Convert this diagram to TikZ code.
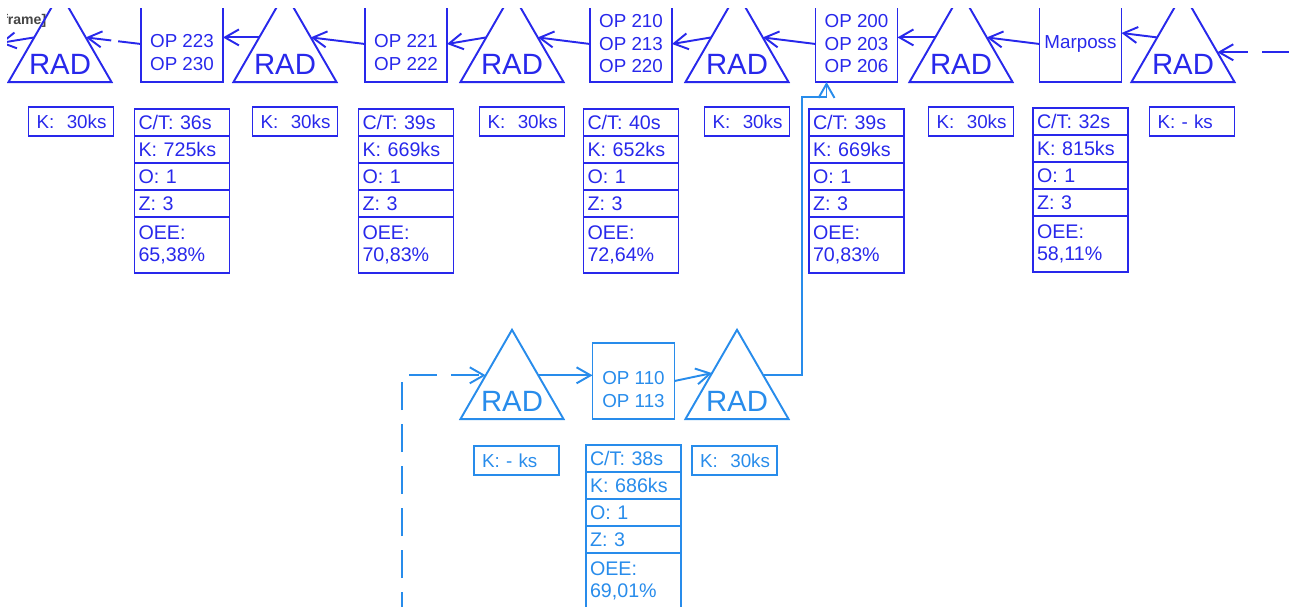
\documentclass[tikz,border=0pt]{standalone}
\usepackage{fontspec}
\setmainfont{Liberation Sans}
\usetikzlibrary{positioning,shapes.geometric,arrows.meta}

\definecolor{vsmblue}{RGB}{40,40,235}
\definecolor{vsmlight}{RGB}{40,140,235}
\definecolor{framegray}{RGB}{70,70,70}
\newcommand{\vsmfont}{\fontsize{10.7}{12.8}\selectfont}
\newcommand{\datafont}{\fontsize{11.2}{12.3}\selectfont}
\newcommand{\radfont}{\fontsize{16.7}{20}\selectfont}
\newcommand{\optop}{\rule{0pt}{0.6cm}}

\begin{document}
\begin{tikzpicture}[x=0.02cm, y=-0.02cm, line width=1.1pt,
  >={Straight Barb[length=0.28cm,width=0.32cm]},
  rad/.style={regular polygon, regular polygon sides=3, draw, minimum size=2.38cm,
    inner sep=0pt, outer sep=0pt, label={[font=\radfont, yshift=-0.25cm]center:RAD}},
  opbox/.style={draw, minimum width=1.64cm, minimum height=1.52cm, align=center,
    font=\vsmfont, inner sep=0pt, outer sep=0pt},
  kbox/.style={draw, text width=1.38cm, inner xsep=0.16cm, inner ysep=0pt,
    minimum height=0.58cm, align=left, font=\vsmfont, outer sep=0pt},
  row/.style={draw, text width=1.74cm, inner xsep=0.08cm, inner ysep=0pt,
    minimum height=0.54cm, align=left, font=\datafont, outer sep=0pt},
  oee/.style={row, minimum height=1.12cm},
  feed/.style={dash pattern=on 0.56cm off 0.28cm}]
  \useasboundingbox (0,0) rectangle (1289,607);
  \clip (7,9) rectangle (1289,607);

  \node[anchor=base west, inner sep=0pt, text=framegray,
    font=\fontsize{8}{9}\selectfont\bfseries] (frm) at (2.3,25) {frame]};

  % main line
  \begin{scope}[color=vsmblue]
    \node[rad] (rad1) at (60,52.3) {};
    \node[opbox] (op1) at (182,44) {\optop OP 223\\OP 230};
    \node[rad] (rad2) at (285,52.3) {};
    \node[opbox] (op2) at (406,44) {\optop OP 221\\OP 222};
    \node[rad] (rad3) at (512,52.3) {};
    \node[opbox] (op3) at (631,44) {OP 210\\OP 213\\OP 220};
    \node[rad] (rad4) at (737,52.3) {};
    \node[opbox] (op4) at (856.5,44) {OP 200\\OP 203\\OP 206};
    \node[rad] (rad5) at (961,52.3) {};
    \node[opbox] (op5) at (1080.5,44) {Marposs};
    \node[rad] (rad6) at (1183,52.3) {};

    \node[kbox, below=0.5cm of rad1.side 2, xshift=0.22cm] (k1) {K:~~30ks};
    \node[kbox, below=0.5cm of rad2.side 2, xshift=0.2cm] (k2) {K:~~30ks};
    \node[kbox, below=0.5cm of rad3.side 2, xshift=0.2cm] (k3) {K:~~30ks};
    \node[kbox, below=0.5cm of rad4.side 2, xshift=0.2cm] (k4) {K:~~30ks};
    \node[kbox, below=0.5cm of rad5.side 2, xshift=0.2cm] (k5) {K:~~30ks};
    \node[kbox, below=0.5cm of rad6.side 2, xshift=0.18cm] (k6) {K: - ks};

    \node[row, below=0.54cm of op1] (ct1) {C/T: 36s};
    \node[row, below=0pt of ct1] (kk1) {K: 725ks};
    \node[row, below=0pt of kk1] (o1) {O: 1};
    \node[row, below=0pt of o1] (z1) {Z: 3};
    \node[oee, below=0pt of z1] (oee1) {OEE:\\65,38\%};

    \node[row, below=0.54cm of op2] (ct2) {C/T: 39s};
    \node[row, below=0pt of ct2] (kk2) {K: 669ks};
    \node[row, below=0pt of kk2] (o2) {O: 1};
    \node[row, below=0pt of o2] (z2) {Z: 3};
    \node[oee, below=0pt of z2] (oee2) {OEE:\\70,83\%};

    \node[row, below=0.54cm of op3] (ct3) {C/T: 40s};
    \node[row, below=0pt of ct3] (kk3) {K: 652ks};
    \node[row, below=0pt of kk3] (o3) {O: 1};
    \node[row, below=0pt of o3] (z3) {Z: 3};
    \node[oee, below=0pt of z3] (oee3) {OEE:\\72,64\%};

    \node[row, below=0.54cm of op4] (ct4) {C/T: 39s};
    \node[row, below=0pt of ct4] (kk4) {K: 669ks};
    \node[row, below=0pt of kk4] (o4) {O: 1};
    \node[row, below=0pt of o4] (z4) {Z: 3};
    \node[oee, below=0pt of z4] (oee4) {OEE:\\70,83\%};

    \node[row, below=0.52cm of op5] (ct5) {C/T: 32s};
    \node[row, below=0pt of ct5] (kk5) {K: 815ks};
    \node[row, below=0pt of kk5] (o5) {O: 1};
    \node[row, below=0pt of o5] (z5) {Z: 3};
    \node[oee, below=0pt of z5] (oee5) {OEE:\\58,11\%};

    \coordinate (in6) at (1310,52.3);
    \coordinate (out1) at (0,43);
    \draw[<-, feed] (rad6.east) -- (in6);
    \draw[->] (rad6.side 1) -- ([yshift=0.22cm]op5.east);
    \draw[->] (op5.west) -- (rad5.side 3);
    \draw[->] (rad5.side 1) -- (rad5.side 1 -| op4.east);
    \draw[->] (op4.west) -- (rad4.side 3);
    \draw[->] (rad4.side 1) -- (op3.east);
    \draw[->] (op3.west) -- (rad3.side 3);
    \draw[->] (rad3.side 1) -- (op2.east);
    \draw[->] (op2.west) -- (rad2.side 3);
    \draw[->] (rad2.side 1) -- (rad2.side 1 -| op1.east);
    \draw[->, dash pattern=on 0.46cm off 0.14cm] (op1.west) -- (rad1.side 3);
    \draw[->] (rad1.side 1) -- (out1);
  \end{scope}

  % feeder line
  \begin{scope}[color=vsmlight]
    \node[rad] (rad7) at (512,389.3) {};
    \node[opbox] (op6) at (633.5,381) {\optop OP 110\\OP 113};
    \node[rad] (rad8) at (737,389.3) {};

    \node[kbox, below=0.54cm of rad7.side 2, xshift=0.09cm] (k7) {K: - ks};
    \node[kbox, below=0.54cm of rad8.side 2, xshift=-0.05cm] (k8) {K:~~30ks};

    \node[row, below=0.52cm of op6] (ct6) {C/T: 38s};
    \node[row, below=0pt of ct6] (kk6) {K: 686ks};
    \node[row, below=0pt of kk6] (o6) {O: 1};
    \node[row, below=0pt of o6] (z6) {Z: 3};
    \node[oee, below=0pt of z6] (oee6) {OEE:\\69,01\%};

    \coordinate (in7) at (402,620);
    \coordinate (up8) at (802,97);
    \draw[->, feed] (in7) |- (rad7.152);
    \draw[->] (rad7.28) -- (rad7.28 -| op6.west);
    \draw[->] (op6.east) -- (rad8.147);
    \draw[->] (rad8.28) -| (up8) -| ([xshift=-0.6cm]op4.south);
  \end{scope}
\end{tikzpicture}
\end{document}
